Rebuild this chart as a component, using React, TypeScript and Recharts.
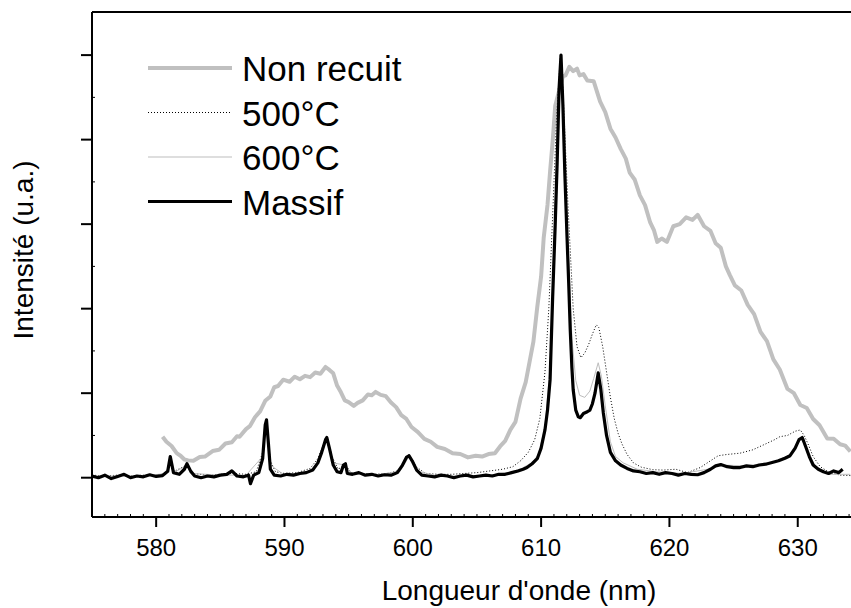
import { LineChart, Line, XAxis, YAxis, Legend, Label } from 'recharts';

// wavelength (nm) / intensity (a.u.)
const nonRecuitWl = [
  580.5, 580.8, 581.2, 581.6, 581.9, 582.2, 582.5, 582.9, 583.4, 583.8, 584.4, 584.9, 585.4, 585.9, 586.3,
  586.5, 587.0, 587.3, 587.7, 588.1, 588.5, 588.9, 589.2, 589.5, 589.9, 590.4, 590.8, 591.2, 591.6, 592.0,
  592.4, 592.8, 593.2, 593.5, 593.8, 594.1, 594.4, 594.7, 595.0, 595.4, 595.7, 596.1, 596.5, 596.8, 597.1,
  597.5, 597.9, 598.3, 598.7, 599.1, 599.5, 599.9, 600.4, 600.9, 601.4, 601.9, 602.5, 603.1, 603.7, 604.3,
  604.9, 605.4, 605.9, 606.4, 606.8, 607.2, 607.6, 608.0, 608.4, 608.8, 609.1, 609.4, 609.7, 610.0, 610.2,
  610.5, 610.7, 610.9, 611.1, 611.4, 611.7, 611.9, 612.2, 612.5, 612.8, 613.0, 613.3, 613.6, 614.1, 614.6,
  615.0, 615.4, 615.8, 616.2, 616.6, 616.9, 617.3, 617.7, 618.1, 618.5, 618.8, 619.05, 619.4, 619.8, 620.3,
  620.8, 621.3, 621.8, 622.2, 622.7, 623.2, 623.6, 624.0, 624.4, 624.7, 625.1, 625.6, 626.1, 626.6, 627.1,
  627.6, 628.1, 628.6, 629.2, 629.7, 630.2, 630.7, 631.2, 631.7, 632.3, 632.8, 633.3, 633.7, 634.1,
];
const nonRecuitInt = [
  0.097, 0.085, 0.075, 0.058, 0.052, 0.043, 0.041, 0.04, 0.049, 0.05, 0.063, 0.066, 0.081, 0.084, 0.098,
  0.097, 0.115, 0.122, 0.143, 0.157, 0.182, 0.192, 0.214, 0.217, 0.232, 0.227, 0.239, 0.233, 0.241, 0.238,
  0.249, 0.246, 0.262, 0.255, 0.247, 0.218, 0.202, 0.183, 0.179, 0.17, 0.177, 0.183, 0.197, 0.195, 0.203,
  0.196, 0.193, 0.178, 0.167, 0.148, 0.139, 0.12, 0.108, 0.092, 0.085, 0.073, 0.068, 0.058, 0.056, 0.048,
  0.052, 0.05, 0.056, 0.058, 0.074, 0.087, 0.113, 0.132, 0.187, 0.226, 0.274, 0.322, 0.404, 0.476, 0.567,
  0.646, 0.725, 0.796, 0.88, 0.915, 0.95, 0.952, 0.972, 0.962, 0.968, 0.952, 0.955, 0.94, 0.938, 0.89,
  0.865, 0.826, 0.805, 0.778, 0.755, 0.722, 0.705, 0.668, 0.645, 0.604, 0.585, 0.558, 0.566, 0.558, 0.595,
  0.6, 0.616, 0.61, 0.622, 0.595, 0.584, 0.555, 0.544, 0.5, 0.48, 0.455, 0.443, 0.409, 0.387, 0.345,
  0.323, 0.28, 0.256, 0.21, 0.2, 0.172, 0.165, 0.139, 0.124, 0.093, 0.092, 0.079, 0.076, 0.062,
];

const recuit500Wl = [
  575, 576, 577, 578, 579, 580, 580.8, 581.1, 581.4, 582.4, 582.9, 584, 585, 586, 587, 587.8, 588.3, 588.6,
  588.9, 589.3, 590, 591, 592, 592.6, 593.3, 593.7, 594.2, 594.7, 595.2, 596, 597, 598, 598.8, 599.7, 600.3,
  601, 602, 603, 604, 605, 606, 607, 607.8, 608.4, 609, 609.5, 609.9, 610.3, 610.6, 610.9, 611.2, 611.5,
  611.7, 611.9, 612.1, 612.3, 612.5, 612.8, 613.1, 613.4, 613.7, 614.0, 614.3, 614.5, 614.8, 615.1, 615.4,
  615.7, 616.0, 616.3, 616.7, 617.2, 617.8, 618.7, 619.5, 620.5, 621.4, 622.4, 623.2, 623.8, 624.5, 625.5,
  626.5, 627.5, 628.2, 628.6, 629.2, 629.8, 630.2, 630.5, 630.8, 631.2, 631.75, 632.5, 633.3, 634.1,
];
const recuit500Int = [
  0.006, 0.004, 0.006, 0.004, 0.006, 0.006, 0.01, 0.045, 0.015, 0.03, 0.01, 0.006, 0.008, 0.01, 0.008, 0.014, 0.06, 0.13,
  0.04, 0.014, 0.01, 0.012, 0.022, 0.045, 0.1, 0.05, 0.02, 0.032, 0.012, 0.01, 0.008, 0.01, 0.016, 0.055, 0.025,
  0.01, 0.008, 0.008, 0.01, 0.012, 0.016, 0.02, 0.026, 0.04, 0.06, 0.09, 0.14, 0.25, 0.4, 0.62, 0.85, 1.0,
  0.92, 0.78, 0.64, 0.52, 0.4, 0.31, 0.284, 0.295, 0.315, 0.34, 0.362, 0.355, 0.31, 0.25, 0.19,
  0.14, 0.105, 0.08, 0.055, 0.035, 0.025, 0.019, 0.018, 0.02, 0.012, 0.024, 0.04, 0.052, 0.055, 0.058,
  0.066, 0.08, 0.09, 0.097, 0.1, 0.11, 0.113, 0.1, 0.08, 0.05, 0.026, 0.012, 0.006, 0.005,
];

const recuit600Wl = [
  575, 577, 579, 580.8, 581.1, 581.4, 582.4, 582.8, 585, 587, 588.3, 588.6, 588.9, 590, 592, 592.7, 593.3,
  593.8, 594.7, 595.2, 597, 599, 599.7, 600.4, 602, 604, 606, 607.5, 608.5, 609.3, 609.8, 610.3, 610.7, 611.0,
  611.3, 611.55, 611.8, 612.1, 612.4, 612.7, 613.0, 613.4, 613.8, 614.1, 614.45, 614.7, 615.0, 615.4, 615.8,
  616.4, 617.5, 619, 621, 623, 624, 626, 628, 629.5, 630.3, 630.8, 631.5, 632.5, 634.1,
];
const recuit600Int = [
  0.004, 0.004, 0.004, 0.01, 0.045, 0.012, 0.03, 0.01, 0.006, 0.006, 0.05, 0.13, 0.03, 0.006, 0.016, 0.04, 0.092,
  0.035, 0.03, 0.01, 0.006, 0.015, 0.05, 0.015, 0.004, 0.004, 0.006, 0.012, 0.022, 0.036, 0.055, 0.12, 0.26, 0.55,
  0.85, 1.0, 0.82, 0.55, 0.33, 0.23, 0.195, 0.19, 0.205, 0.235, 0.272, 0.24, 0.17, 0.085, 0.05,
  0.035, 0.02, 0.014, 0.01, 0.02, 0.03, 0.028, 0.036, 0.055, 0.095, 0.06, 0.02, 0.008, 0.008,
];

const massifWl = [
  575.0, 575.5, 576.0, 576.5, 577.0, 577.5, 578.0, 578.5, 579.0, 579.5, 580.0, 580.5, 580.9, 581.1, 581.35,
  581.8, 582.2, 582.4, 582.7, 583.0, 583.5, 584.0, 584.5, 585.0, 585.5, 585.9, 586.3, 586.8, 587.2, 587.35,
  587.6, 588.0, 588.3, 588.5, 588.6, 588.75, 588.9, 589.2, 589.7, 590.2, 590.7, 591.2, 591.7, 592.2, 592.6,
  592.9, 593.2, 593.3, 593.5, 593.8, 594.1, 594.4, 594.6, 594.75, 594.9, 595.3, 595.8, 596.3, 596.8, 597.3,
  597.8, 598.3, 598.8, 599.2, 599.5, 599.7, 599.95, 600.3, 600.7, 601.2, 601.7, 602.2, 602.7, 603.2, 603.7,
  604.2, 604.7, 605.2, 605.7, 606.2, 606.7, 607.2, 607.7, 608.2, 608.6, 608.9, 609.3, 609.7, 610.0, 610.3,
  610.5, 610.7, 610.9, 611.1, 611.25, 611.4, 611.55, 611.7, 611.85, 612.0, 612.15, 612.27, 612.4, 612.5, 612.7,
  612.9, 613.05, 613.3, 613.6, 613.8, 614.0, 614.2, 614.45, 614.65, 614.85, 615.1, 615.4, 615.8, 616.2, 616.7,
  617.2, 617.7, 618.2, 618.7, 619.2, 619.7, 620.2, 620.7, 621.2, 621.7, 622.2, 622.7, 623.2, 623.6, 624.0,
  624.5, 625.0, 625.5, 626.0, 626.5, 627.0, 627.5, 628.0, 628.5, 629.0, 629.4, 629.8, 630.1, 630.35, 630.6,
  630.9, 631.2, 631.6, 632.0, 632.4, 632.8, 633.2, 633.5,
];
const massifInt = [
  0.004, 0.0, 0.006, -0.002, 0.003, 0.008, 0.0, 0.004, 0.002, 0.007, 0.003, 0.005, 0.015, 0.05, 0.012,
  0.008, 0.02, 0.033, 0.015, 0.004, 0.0, 0.004, 0.002, 0.006, 0.008, 0.016, 0.004, 0.002, 0.006, -0.014,
  0.006, 0.012, 0.045, 0.125, 0.137, 0.08, 0.02, 0.006, 0.004, 0.008, 0.006, 0.01, 0.012, 0.018, 0.035,
  0.06, 0.09, 0.095, 0.07, 0.03, 0.014, 0.012, 0.03, 0.033, 0.01, 0.008, 0.012, 0.006, 0.008, 0.004,
  0.007, 0.006, 0.012, 0.03, 0.048, 0.052, 0.04, 0.018, 0.006, 0.004, 0.002, 0.006, 0.004, 0.0, 0.004,
  0.006, 0.002, 0.004, 0.006, 0.004, 0.008, 0.008, 0.012, 0.016, 0.02, 0.024, 0.033, 0.045, 0.07, 0.113,
  0.16, 0.232, 0.428, 0.6, 0.745, 0.92, 1.0, 0.88, 0.72, 0.586, 0.46, 0.35, 0.26, 0.208, 0.16,
  0.144, 0.142, 0.152, 0.156, 0.16, 0.175, 0.2, 0.248, 0.21, 0.153, 0.1, 0.06, 0.04, 0.03, 0.022,
  0.016, 0.014, 0.01, 0.012, 0.008, 0.012, 0.01, 0.006, 0.01, 0.008, 0.007, 0.012, 0.02, 0.028, 0.031,
  0.026, 0.024, 0.024, 0.028, 0.026, 0.03, 0.032, 0.036, 0.04, 0.046, 0.052, 0.07, 0.09, 0.095, 0.075,
  0.05, 0.03, 0.02, 0.014, 0.01, 0.016, 0.012, 0.02,
];

const xTickLabels = [580, 590, 600, 610, 620, 630];
const xMinorTicks = Array.from({ length: 60 }, (_, i) => 575 + i);
const yTicks = [0, 0.1, 0.2, 0.3, 0.4, 0.5, 0.6, 0.7, 0.8, 0.9, 1];
const yMajor = [0, 0.2, 0.4, 0.6, 0.8, 1];

const toPoints = (wl: number[], v: number[]) => wl.map((w, i) => ({ wl: w, v: v[i] }));

const series = [
  { name: 'Non recuit', data: toPoints(nonRecuitWl, nonRecuitInt), stroke: '#c0c0c0', width: 4, dash: undefined },
  { name: '500°C', data: toPoints(recuit500Wl, recuit500Int), stroke: '#000', width: 1, dash: '1 2' },
  { name: '600°C', data: toPoints(recuit600Wl, recuit600Int), stroke: '#bdbdbd', width: 1, dash: undefined },
  { name: 'Massif', data: toPoints(massifWl, massifInt), stroke: '#000', width: 3.2, dash: undefined },
];

const FONT = '"Liberation Sans", Arial, Helvetica, sans-serif';

const BottomTick = (props: any) => {
  const { x, y, payload } = props;
  const major = xTickLabels.includes(payload.value);
  if (!major) return <line x1={x} x2={x} y1={y - 3} y2={y} stroke="#000" strokeWidth={1} />;
  return (
    <g>
      <line x1={x} x2={x} y1={y} y2={y + 10} stroke="#000" strokeWidth={2} />
      <text x={x} y={y + 39} textAnchor="middle" fontSize={24} fontFamily={FONT} fill="#000">
        {payload.value}
      </text>
    </g>
  );
};

const TopTick = (props: any) => {
  const { x, y } = props;
  return <line x1={x} x2={x} y1={y} y2={y + 3} stroke="#000" strokeWidth={1} />;
};

const LeftTick = (props: any) => {
  const { x, y, payload } = props;
  const major = yMajor.includes(payload.value);
  if (major) return <line x1={x - 11} x2={x} y1={y} y2={y} stroke="#000" strokeWidth={2} />;
  return <line x1={x} x2={x + 3} y1={y} y2={y} stroke="#000" strokeWidth={1} />;
};

const LegendBox = () => (
  <svg width={320} height={200} style={{ display: 'block', overflow: 'visible' }}>
    {series.map((s, i) => {
      const ly = 28 + i * 44.5;
      return (
        <g key={s.name}>
          <line x1={8} x2={92} y1={ly} y2={ly} stroke={s.stroke} strokeWidth={s.width} strokeDasharray={s.dash} />
          <text x={102} y={ly + 13} fontSize={35} fontFamily={FONT} fill="#000">
            {s.name}
          </text>
        </g>
      );
    })}
  </svg>
);

export default function App() {
  return (
    <div style={{ position: 'absolute', left: 0, top: 0, width: 851, height: 608, background: '#fff' }}>
      <LineChart width={851} height={608} margin={{ top: 0, right: 0, bottom: 0, left: 0 }}>
        <XAxis
          dataKey="wl"
          type="number"
          domain={[575, 634.15]}
          allowDataOverflow
          ticks={xMinorTicks}
          interval={0}
          tick={BottomTick}
          tickLine={false}
          tickSize={0}
          tickMargin={0}
          height={91}
          axisLine={{ stroke: '#000', strokeWidth: 2 }}
        >
          <Label
            content={() => (
              <text x={519} y={600} textAnchor="middle" fontSize={28} fontFamily={FONT} fill="#000">
                Longueur d'onde (nm)
              </text>
            )}
          />
        </XAxis>
        <XAxis
          xAxisId="top"
          orientation="top"
          type="number"
          domain={[575, 634.15]}
          allowDataOverflow
          ticks={xMinorTicks}
          interval={0}
          tick={TopTick}
          tickLine={false}
          tickSize={0}
          tickMargin={0}
          height={12}
          axisLine={{ stroke: '#000', strokeWidth: 2 }}
        />
        <YAxis
          type="number"
          domain={[-0.093, 1.102]}
          allowDataOverflow
          ticks={yTicks}
          interval={0}
          tick={LeftTick}
          tickLine={false}
          tickSize={0}
          tickMargin={0}
          width={92}
          axisLine={{ stroke: '#000', strokeWidth: 2 }}
        >
          <Label
            content={() => (
              <text
                transform="translate(33,250) rotate(-90)"
                textAnchor="middle"
                fontSize={28}
                fontFamily={FONT}
                fill="#000"
              >
                Intensité (u.a.)
              </text>
            )}
          />
        </YAxis>
        <Legend
          layout="vertical"
          align="center"
          verticalAlign="middle"
          wrapperStyle={{ left: 140, top: 40, width: 320, height: 200 }}
          content={LegendBox}
        />
        {series.map((s) => (
          <Line
            key={s.name}
            data={s.data}
            dataKey="v"
            name={s.name}
            type="linear"
            stroke={s.stroke}
            strokeWidth={s.width}
            strokeDasharray={s.dash}
            strokeLinejoin="round"
            dot={false}
            activeDot={false}
            isAnimationActive={false}
          />
        ))}
      </LineChart>
    </div>
  );
}
